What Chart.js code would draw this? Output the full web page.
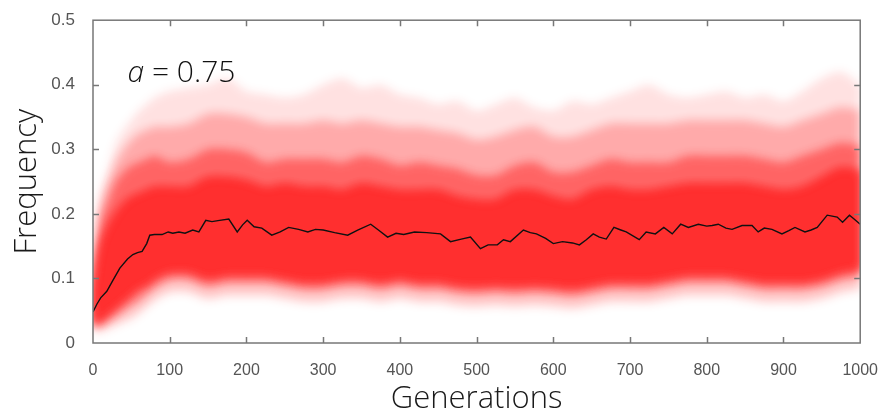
<!DOCTYPE html>
<html>
<head>
<meta charset="utf-8">
<script src="https://cdn.jsdelivr.net/npm/chart.js@4.4.1/dist/chart.umd.min.js"></script>
<style>
  body { margin: 0; background: #fff; }
  #wrap { width: 888px; height: 419px; }
</style>
</head>
<body>
<div id="wrap"><canvas id="freqChart"></canvas></div>
<script>
// mean frequency (black line)
const meanGen = [0, 5, 10, 18, 25, 35, 45, 52, 58, 64, 70, 74, 80, 90, 98, 104, 112, 120, 130, 138,
  147, 155, 165, 177, 188, 195, 201, 210, 220, 233, 244, 255, 268, 280, 290, 300, 315, 332, 345, 362,
  372, 384, 395, 405, 419, 435, 453, 466, 480, 492, 505, 515, 527, 535, 544, 561, 570, 578, 590, 600,
  612, 625, 634, 643, 652, 660, 669, 679, 688, 695, 712, 721, 733, 744, 755, 766, 776, 789, 800, 807,
  815, 825, 833, 846, 859, 867, 875, 885, 898, 907, 915, 928, 936, 944, 957, 970, 977, 986, 992, 1000];
const meanFreq = [0.048, 0.06, 0.07, 0.08, 0.095, 0.116, 0.13, 0.137, 0.14, 0.142, 0.154, 0.167, 0.168, 0.168, 0.172, 0.170, 0.172, 0.170, 0.175, 0.172,
  0.19, 0.188, 0.19, 0.192, 0.172, 0.183, 0.19, 0.18, 0.178, 0.167, 0.172, 0.179, 0.176, 0.172, 0.176, 0.175, 0.171, 0.167, 0.175, 0.184,
  0.175, 0.164, 0.170, 0.168, 0.172, 0.171, 0.169, 0.157, 0.161, 0.164, 0.146, 0.152, 0.152, 0.160, 0.157, 0.175, 0.171, 0.169, 0.162, 0.154,
  0.157, 0.155, 0.152, 0.160, 0.169, 0.164, 0.161, 0.179, 0.175, 0.172, 0.160, 0.172, 0.169, 0.179, 0.169, 0.184, 0.179, 0.184, 0.181, 0.182,
  0.184, 0.178, 0.176, 0.182, 0.182, 0.172, 0.178, 0.176, 0.169, 0.174, 0.179, 0.172, 0.175, 0.179, 0.198, 0.195, 0.187, 0.198, 0.192, 0.184];

// spread of the individual runs (red cloud), read as envelopes
const envGen = [0, 10, 20, 30, 40, 50, 60, 70, 80,
  100, 125, 150, 175, 200, 225, 250, 275, 300, 325, 350, 375, 400, 425, 450, 475, 500,
  525, 550, 575, 600, 625, 650, 675, 700, 725, 750, 775, 800, 825, 850, 875, 900, 925, 950, 975, 1000];
const hiEdge = [0.13, 0.23, 0.27, 0.31, 0.33, 0.345, 0.36, 0.37, 0.38,
  0.39, 0.395, 0.40, 0.41, 0.39, 0.385, 0.38, 0.385, 0.40, 0.41, 0.395, 0.40, 0.385, 0.38, 0.37, 0.375, 0.36,
  0.37, 0.38, 0.365, 0.36, 0.375, 0.37, 0.38, 0.39, 0.40, 0.385, 0.38, 0.385, 0.39, 0.38, 0.385, 0.375, 0.39, 0.41, 0.42, 0.40];
const hiOuter = [0.115, 0.215, 0.25, 0.28, 0.30, 0.315, 0.325, 0.33, 0.335,
  0.335, 0.34, 0.355, 0.355, 0.35, 0.34, 0.34, 0.34, 0.345, 0.34, 0.345, 0.34, 0.335, 0.335, 0.33, 0.325, 0.315,
  0.32, 0.33, 0.335, 0.32, 0.32, 0.33, 0.34, 0.34, 0.34, 0.34, 0.345, 0.345, 0.345, 0.345, 0.34, 0.335, 0.345, 0.355, 0.365, 0.36];
const hiMid = [0.10, 0.19, 0.22, 0.25, 0.265, 0.275, 0.28, 0.285, 0.29,
  0.28, 0.285, 0.30, 0.30, 0.295, 0.28, 0.285, 0.285, 0.285, 0.28, 0.29, 0.285, 0.275, 0.28, 0.275, 0.27, 0.26,
  0.26, 0.275, 0.28, 0.265, 0.265, 0.275, 0.285, 0.28, 0.28, 0.28, 0.29, 0.29, 0.29, 0.29, 0.285, 0.28, 0.29, 0.30, 0.31, 0.305];
const hiCore = [0.08, 0.15, 0.18, 0.20, 0.215, 0.225, 0.23, 0.235, 0.24,
  0.24, 0.24, 0.255, 0.255, 0.25, 0.24, 0.245, 0.24, 0.24, 0.235, 0.245, 0.24, 0.235, 0.235, 0.235, 0.225, 0.22,
  0.22, 0.235, 0.235, 0.225, 0.22, 0.235, 0.24, 0.235, 0.235, 0.24, 0.245, 0.245, 0.245, 0.245, 0.24, 0.235, 0.24, 0.255, 0.27, 0.265];
const loCore = [0.03, 0.035, 0.045, 0.055, 0.065, 0.075, 0.085, 0.09, 0.10,
  0.11, 0.11, 0.10, 0.105, 0.105, 0.105, 0.10, 0.095, 0.095, 0.10, 0.10, 0.095, 0.10, 0.095, 0.095, 0.09, 0.088,
  0.09, 0.088, 0.09, 0.088, 0.085, 0.09, 0.095, 0.095, 0.095, 0.10, 0.105, 0.105, 0.105, 0.10, 0.095, 0.095, 0.095, 0.10, 0.11, 0.115];
const loMid = [0.025, 0.028, 0.035, 0.042, 0.05, 0.058, 0.065, 0.075, 0.085,
  0.097, 0.097, 0.087, 0.092, 0.092, 0.092, 0.087, 0.082, 0.082, 0.087, 0.087, 0.082, 0.087, 0.082, 0.082, 0.077, 0.075,
  0.077, 0.075, 0.077, 0.075, 0.072, 0.077, 0.082, 0.082, 0.082, 0.087, 0.092, 0.092, 0.092, 0.087, 0.082, 0.082, 0.082, 0.087, 0.097, 0.102];
const loEdge = [0.018, 0.018, 0.023, 0.028, 0.033, 0.038, 0.046, 0.056, 0.066,
  0.078, 0.078, 0.068, 0.073, 0.073, 0.073, 0.068, 0.063, 0.063, 0.068, 0.068, 0.063, 0.068, 0.063, 0.063, 0.058, 0.056,
  0.058, 0.056, 0.058, 0.056, 0.053, 0.058, 0.063, 0.063, 0.063, 0.068, 0.073, 0.073, 0.073, 0.068, 0.063, 0.063, 0.063, 0.068, 0.078, 0.083];

const xTicks = [0, 100, 200, 300, 400, 500, 600, 700, 800, 900, 1000];
const yTicks = [0, 0.1, 0.2, 0.3, 0.4, 0.5];

const pts = (xs, ys) => xs.map((v, i) => ({ x: v, y: ys[i] }));

// dataset indexes: 0 mean, 1..4 upper edges, 5 loCore, 6 loMid, 7 loEdge
function band(data, color, target) {
    return {
        data: pts(envGen, data),
        borderWidth: 0,
        pointRadius: 0,
        backgroundColor: color,
        fill: target,
        tension: 0.3,
        order: 1
    };
}

// soften the cloud bands, keep the mean line sharp
const softCloud = {
    id: 'softCloud',
    beforeDatasetsDraw(chart) { chart.ctx.filter = 'blur(5px)'; },
    afterDatasetDraw(chart, args) { if (args.index === 1) chart.ctx.filter = 'none'; },
    afterDatasetsDraw(chart) { chart.ctx.filter = 'none'; }
};

// MATLAB style box with inward ticks + the "a = 0.75" note
const frame = {
    id: 'frame',
    afterDatasetsDraw(chart) {
        const { ctx, chartArea: a, scales: { x, y } } = chart;
        ctx.save();
        ctx.filter = 'none';
        ctx.strokeStyle = '#777';
        ctx.lineWidth = 1.5;
        ctx.strokeRect(a.left, a.top, a.right - a.left, a.bottom - a.top);
        ctx.beginPath();
        xTicks.slice(1, -1).forEach(v => {
            const px = Math.round(x.getPixelForValue(v)) + 0.5;
            ctx.moveTo(px, a.bottom); ctx.lineTo(px, a.bottom - 6);
            ctx.moveTo(px, a.top); ctx.lineTo(px, a.top + 6);
        });
        yTicks.slice(1, -1).forEach(v => {
            const py = Math.round(y.getPixelForValue(v)) + 0.5;
            ctx.moveTo(a.left, py); ctx.lineTo(a.left + 6, py);
            ctx.moveTo(a.right, py); ctx.lineTo(a.right - 6, py);
        });
        ctx.stroke();

        const tx = x.getPixelForValue(45);
        const ty = y.getPixelForValue(0.404);
        ctx.fillStyle = '#111';
        ctx.textBaseline = 'alphabetic';
        ctx.font = 'italic 300 30px "Open Sans"';
        ctx.fillText('a', tx, ty);
        const w = ctx.measureText('a').width;
        ctx.font = '300 30px "Open Sans"';
        ctx.fillText(' = 0.75', tx + w, ty);
        ctx.restore();
    }
};

const canvas = document.getElementById('freqChart');

new Chart(canvas, {
    type: 'line',
    data: {
        datasets: [
            {
                data: pts(meanGen, meanFreq),
                borderColor: '#111',
                borderWidth: 1.4,
                pointRadius: 0,
                fill: false,
                order: 0
            },
            band(hiEdge, 'rgba(255, 20, 20, 0.13)', 5),
            band(hiOuter, 'rgba(255, 30, 30, 0.28)', 5),
            band(hiMid, 'rgba(255, 40, 40, 0.52)', 5),
            band(hiCore, 'rgba(255, 48, 48, 0.62)', 5),
            band(loCore, 'rgba(0, 0, 0, 0)', false),
            band(loMid, 'rgba(255, 40, 40, 0.49)', 4),
            band(loEdge, 'rgba(255, 20, 20, 0.22)', 4)
        ]
    },
    options: {
        responsive: true,
        maintainAspectRatio: false,
        animation: false,
        layout: { padding: { left: 0, right: 22, top: 14, bottom: 0 } },
        plugins: {
            legend: { display: false },
            tooltip: { enabled: false }
        },
        scales: {
            x: {
                type: 'linear',
                min: 0,
                max: 1000,
                afterFit: s => { s.height = 76; },
                afterBuildTicks: s => { s.ticks = xTicks.map(v => ({ value: v })); },
                grid: { display: false },
                border: { display: false },
                ticks: {
                    padding: 10,
                    color: '#555',
                    font: { family: 'Liberation Sans', size: 16 },
                    callback: v => String(v)
                },
                title: {
                    display: true,
                    text: 'Generations',
                    color: '#1a1a1a',
                    padding: { top: 0, bottom: 1 },
                    font: { family: 'Open Sans', size: 31, weight: '300' }
                }
            },
            y: {
                min: 0,
                max: 0.5,
                afterFit: s => { s.width = 93; },
                afterBuildTicks: s => { s.ticks = yTicks.map(v => ({ value: v })); },
                grid: { display: false },
                border: { display: false },
                ticks: {
                    padding: 10,
                    color: '#555',
                    font: { family: 'Liberation Sans', size: 17 },
                    callback: v => String(v)
                },
                title: {
                    display: true,
                    text: 'Frequency',
                    color: '#1a1a1a',
                    padding: { top: 9, bottom: 0 },
                    font: { family: 'Open Sans', size: 31, weight: '300' }
                }
            }
        }
    },
    plugins: [softCloud, frame]
});
</script>
</body>
</html>
